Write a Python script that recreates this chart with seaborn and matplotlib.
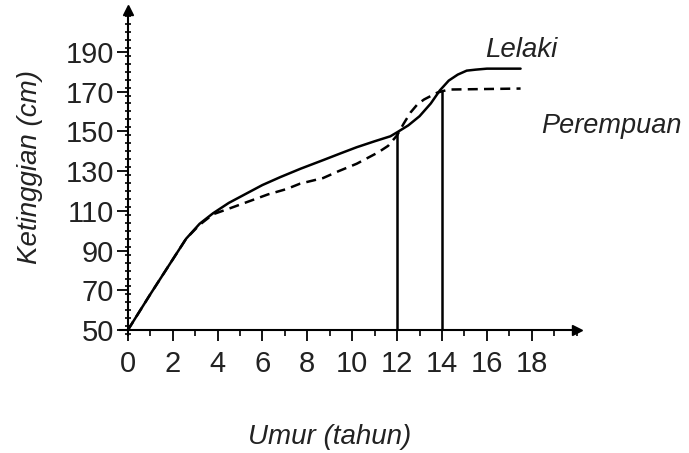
import matplotlib

matplotlib.use("Agg")
import matplotlib.pyplot as plt
import pandas as pd
import seaborn as sns
from matplotlib.ticker import MultipleLocator

# values
lelaki_umur = [0, 1, 2, 2.6, 3.2, 3.8, 4.5, 5.3, 6, 6.8, 7.7, 8.7, 9.5, 10.2,
               11, 11.7, 12, 12.5, 13, 13.5, 13.9, 14.3, 14.7, 15.1, 15.5, 16, 17.5]
lelaki_tinggi = [50, 68, 85.5, 96, 103.5, 108.8, 114, 118.8, 123, 127, 131.2,
                 135.5, 139, 142, 145, 147.5, 149.5, 153, 157.6, 164, 170.5,
                 175.5, 178.5, 180.5, 181, 181.5, 181.5]
perempuan_umur = [0, 1, 2, 2.6, 3.2, 3.8, 4.55, 5.45, 6.25, 7.08, 7.68, 8.7,
                  9.4, 10.2, 11.17, 11.6, 12, 12.3, 12.6, 12.9, 13.2, 13.8,
                  14.3, 17.5]
perempuan_tinggi = [50, 68, 85.5, 96, 103, 108.3, 111.3, 115, 118.3, 121,
                    123.7, 126.5, 130, 133.7, 139.5, 142.7, 148, 154, 159.5,
                    163.5, 166, 169.5, 171, 171.5]
garis_umur = [12, 14]
garis_tinggi = [149.5, 170.5]
y_ticks = [50, 70, 90, 110, 130, 150, 170, 190]
x_ticks = [0, 2, 4, 6, 8, 10, 12, 14, 16, 18]


def main():
    frame = pd.concat(
        [
            pd.DataFrame({"Umur": lelaki_umur, "Ketinggian": lelaki_tinggi,
                          "Jantina": "Lelaki"}),
            pd.DataFrame({"Umur": perempuan_umur, "Ketinggian": perempuan_tinggi,
                          "Jantina": "Perempuan"}),
        ],
        ignore_index=True,
    )
    sns.set_theme(style="white")
    plt.rcParams["font.family"] = ["Liberation Sans", "DejaVu Sans"]

    fig = plt.figure(figsize=(6.89, 4.53), dpi=100)
    ax = fig.add_axes([0.174, 0.26, 0.663, 0.718])
    sns.lineplot(
        data=frame, x="Umur", y="Ketinggian", style="Jantina",
        dashes={"Lelaki": "", "Perempuan": (4, 2.5)},
        color="black", linewidth=1.8, sort=False, estimator=None,
        legend=False, ax=ax,
    )
    ax.vlines(garis_umur, 50, garis_tinggi, color="black", linewidth=1.8)

    ax.set_xlim(-0.35, 20)
    ax.set_ylim(47.5, 211)
    for side in ("top", "right"):
        ax.spines[side].set_visible(False)
    ax.spines["left"].set_position(("data", 0))
    ax.spines["bottom"].set_position(("data", 50))
    for side in ("left", "bottom"):
        ax.spines[side].set_color("black")
        ax.spines[side].set_linewidth(1.5)
    ax.plot(0, 1, marker="^", color="black", markersize=7,
            transform=ax.get_xaxis_transform(), clip_on=False)
    ax.plot(1, 50, marker=">", color="black", markersize=7,
            transform=ax.get_yaxis_transform(), clip_on=False)

    ax.set_xticks(x_ticks)
    ax.set_yticks(y_ticks)
    ax.xaxis.set_minor_locator(MultipleLocator(1))
    ax.yaxis.set_minor_locator(MultipleLocator(4))
    ax.tick_params(axis="both", which="major", direction="out", length=8,
                   width=1.3, color="black", labelsize=21, labelcolor="#222222")
    ax.tick_params(axis="x", which="major", pad=6)
    ax.tick_params(axis="y", which="major", pad=2)
    ax.tick_params(axis="x", which="minor", direction="out", length=4,
                   width=1.2, color="black")
    ax.tick_params(axis="y", which="minor", direction="inout", length=5,
                   width=1.2, color="black")
    ax.tick_params(which="both", bottom=True, left=True)

    ax.set_xlabel("")
    ax.set_ylabel("")
    fig.text(0.479, 0.035, "Umur (tahun)", style="italic", fontsize=20,
             color="#222222", ha="center", va="center")
    fig.text(0.044, 0.632, "Ketinggian (cm)", style="italic", fontsize=20,
             color="#222222", ha="center", va="center", rotation=90)
    ax.text(15.9, 191, "Lelaki", style="italic", fontsize=20,
            color="#222222", ha="left", va="center")
    ax.text(18.4, 152.6, "Perempuan", style="italic", fontsize=19.5,
            color="#222222", ha="left", va="center", clip_on=False)

    fig.savefig("out.png", dpi=100)


if __name__ == "__main__":
    main()
